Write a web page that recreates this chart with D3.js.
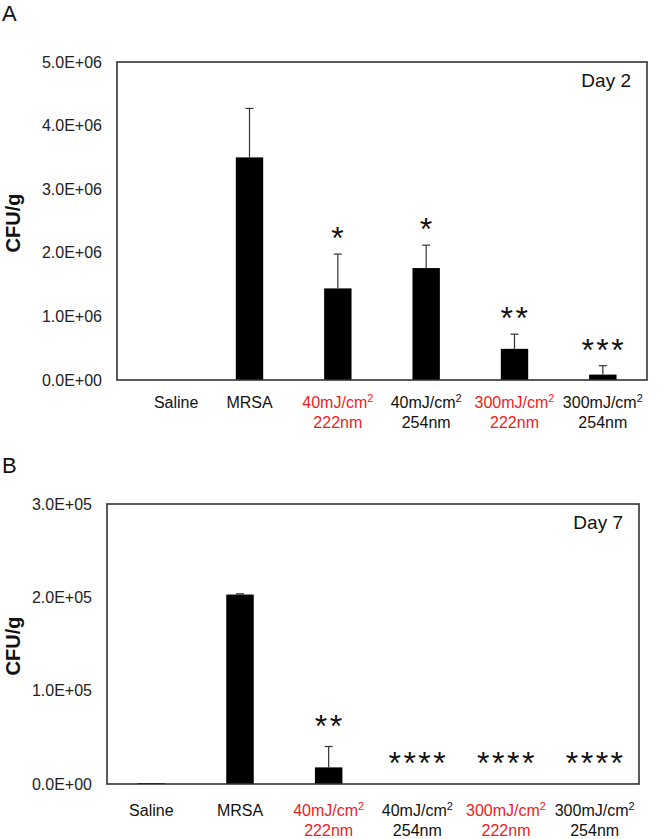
<!DOCTYPE html>
<html>
<head>
<meta charset="utf-8">
<script src="https://cdn.jsdelivr.net/npm/d3@7"></script>
<style>
  html, body { margin: 0; padding: 0; background: #fff; }
  svg { display: block; font-family: Arial, "Liberation Sans", sans-serif; }
</style>
</head>
<body>
<svg id="chart" width="667" height="839"></svg>
<script>
// ---------------- data ----------------
const catLine1 = ["Saline", "MRSA", "40mJ/cm", "40mJ/cm", "300mJ/cm", "300mJ/cm"];
const catSup = ["", "", "2", "2", "2", "2"];
const catLine2 = ["", "", "222nm", "254nm", "222nm", "254nm"];

const day2Values = [0, 3.5e6, 1.44e6, 1.76e6, 0.49e6, 0.085e6];
const day2Errors = [0, 0.77e6, 0.54e6, 0.36e6, 0.23e6, 0.14e6];
const day2Sig = ["", "", "*", "*", "**", "***"];
const day2Ticks = [0, 1e6, 2e6, 3e6, 4e6, 5e6];

const day7Values = [1.0e3, 2.03e5, 1.78e4, 0, 0, 0];
const day7Errors = [0, 0.8e3, 2.24e4, 0, 0, 0];
const day7Sig = ["", "", "**", "****", "****", "****"];
const day7Ticks = [0, 1e5, 2e5, 3e5];

// ---------------- drawing ----------------
const svg = d3.select("#chart");
const RED = "#ee1c22";

function sci(v) {
  const [m, e] = v.toExponential(1).split("e");
  const sign = e[0] === "-" ? "-" : "+";
  const ex = String(Math.abs(+e)).padStart(2, "0");
  return m + "E" + sign + ex;
}

function panel(opt) {
  const { letter, letterY, x0, x1, y0, y1, values, errors, sig, ticks, dayText, sigOffset, lblOff, firstDx } = opt;
  const g = svg.append("g");

  const x = d3.scaleBand().domain(catLine1.map((d, i) => i))
    .range([x0, x1]).paddingInner(0.69).paddingOuter(0.345);
  const y = d3.scaleLinear().domain([0, ticks[ticks.length - 1]]).range([y1, y0]);

  // panel letter
  g.append("text").attr("x", 2).attr("y", letterY)
    .attr("font-size", 22).attr("fill", "#111").text(letter);

  // y axis labels (no tick marks)
  const yAxis = d3.axisLeft(y).tickValues(ticks).tickFormat(sci).tickSize(0).tickPadding(15);
  const ya = g.append("g").attr("transform", `translate(${x0},0)`).call(yAxis);
  ya.select(".domain").remove();
  ya.selectAll("text").attr("font-size", 16).attr("fill", "#222")
    .attr("font-family", 'Arial, "Liberation Sans", sans-serif');

  // y title
  g.append("text")
    .attr("transform", `translate(20,${(y0 + y1) / 2 + 2}) rotate(-90)`)
    .attr("text-anchor", "middle").attr("font-size", 20).attr("font-weight", "bold")
    .attr("fill", "#111").text("CFU/g");

  // bars
  g.selectAll("rect.bar").data(values).join("rect").attr("class", "bar")
    .attr("x", (d, i) => x(i)).attr("width", x.bandwidth())
    .attr("y", d => y(d)).attr("height", d => y1 - y(d))
    .attr("fill", "#000");

  // error bars (upper only)
  const cap = 4;
  values.forEach((v, i) => {
    if (!errors[i]) return;
    const cx = x(i) + x.bandwidth() / 2;
    g.append("line").attr("x1", cx).attr("x2", cx)
      .attr("y1", y(v)).attr("y2", y(v + errors[i]))
      .attr("stroke", "#333").attr("stroke-width", 1.2);
    g.append("line").attr("x1", cx - cap).attr("x2", cx + cap)
      .attr("y1", y(v + errors[i])).attr("y2", y(v + errors[i]))
      .attr("stroke", "#333").attr("stroke-width", 1.2);
  });

  // significance markers
  sig.forEach((s, i) => {
    if (!s) return;
    const cx = x(i) + x.bandwidth() / 2;
    g.append("text").attr("x", cx + 1)
      .attr("y", y(values[i] + errors[i]) - sigOffset)
      .attr("dy", "0.57em")
      .attr("text-anchor", "middle")
      .attr("font-size", 32).attr("letter-spacing", 2.5).attr("fill", "#111")
      .text(s);
  });

  // plot frame
  g.append("rect").attr("x", x0).attr("y", y0)
    .attr("width", x1 - x0).attr("height", y1 - y0)
    .attr("fill", "none").attr("stroke", "#333").attr("stroke-width", 1.6);

  // day label
  g.append("text").attr("x", x1 - 16).attr("y", y0 + 25)
    .attr("text-anchor", "end").attr("font-size", 19).attr("fill", "#111").text(dayText);

  // category labels
  catLine1.forEach((t, i) => {
    const cx = x(i) + x.bandwidth() / 2 + (i === 0 ? firstDx : 0);
    const col = catLine2[i] === "222nm" ? RED : "#111";
    const t1 = g.append("text").attr("x", cx).attr("y", y1 + lblOff)
      .attr("text-anchor", "middle").attr("font-size", 16).attr("fill", col);
    t1.append("tspan").text(t);
    if (catSup[i]) {
      t1.append("tspan").attr("font-size", 11).attr("dy", -6).text(catSup[i]);
    }
    if (catLine2[i]) {
      g.append("text").attr("x", cx).attr("y", y1 + lblOff + 20)
        .attr("text-anchor", "middle").attr("font-size", 16).attr("fill", col)
        .text(catLine2[i]);
    }
  });
}

panel({ letter: "A", letterY: 21, x0: 117, x1: 647, y0: 62, y1: 380,
  values: day2Values, errors: day2Errors, sig: day2Sig, ticks: day2Ticks,
  dayText: "Day 2", sigOffset: 23, lblOff: 28, firstDx: 15 });

panel({ letter: "B", letterY: 473, x0: 107, x1: 639, y0: 504, y1: 784,
  values: day7Values, errors: day7Errors, sig: day7Sig, ticks: day7Ticks,
  dayText: "Day 7", sigOffset: 28, lblOff: 32, firstDx: 0 });
</script>
</body>
</html>
